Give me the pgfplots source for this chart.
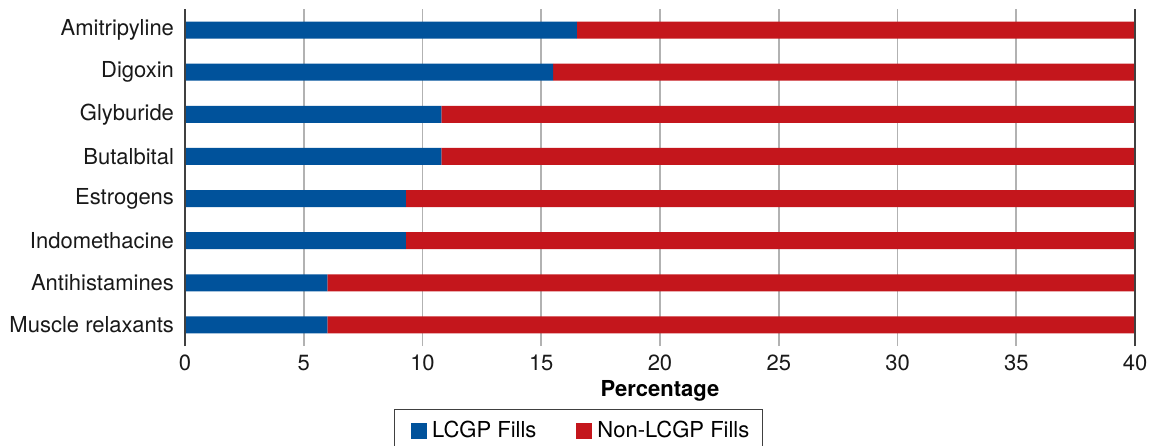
\documentclass[border=0pt]{standalone}
\usepackage{pgfplots}
\pgfplotsset{compat=1.18}
\usepackage{fontspec}
\setmainfont{TeX Gyre Heros}
\definecolor{lblue}{RGB}{0,82,155}
\definecolor{lred}{RGB}{196,22,28}
\newcommand{\fs}{\fontsize{11bp}{13bp}\selectfont}
\begin{document}
\begin{tikzpicture}
\begin{axis}[
  xbar stacked,
  scale only axis,
  width=475bp, height=168.5bp,
  xmin=0, xmax=40, ymin=-0.5, ymax=7.5,
  ytick={0,...,7},
  yticklabels={Muscle relaxants,Antihistamines,Indomethacine,Estrogens,Butalbital,Glyburide,Digoxin,Amitripyline},
  xtick={0,5,...,40},
  bar width=8.5bp,
  xmajorgrids,
  grid style={draw=black!30, line width=0.8pt},
  axis line style={draw=none},
  major tick length=0pt,
  tick style={draw=none},
  /pgf/number format/assume math mode=true,
  tick label style={font=\fs, text=black!90},
  yticklabel style={xshift=-2bp},
  xticklabel style={yshift=-1bp},
  xlabel={\textbf{Percentage}},
  xlabel style={font=\fs, yshift=2bp},
  legend columns=2,
  legend style={at={(0.414,-0.186)}, anchor=north, font=\fs, draw=black!75, line width=0.6pt,
    inner xsep=4bp, inner ysep=4bp,
    nodes={inner xsep=2.5bp},
    /tikz/every even column/.append style={column sep=13bp}},
  legend image code/.code={\path (0bp,0bp); \fill[#1] (4.5bp,-4bp) rectangle (12.5bp,4bp);},
]
\addplot[fill=lblue, draw=none] coordinates {(6.0,0) (6.0,1) (9.3,2) (9.3,3) (10.8,4) (10.8,5) (15.5,6) (16.5,7)};
\addplot[fill=lred, draw=none] coordinates {(94.0,0) (94.0,1) (90.7,2) (90.7,3) (89.2,4) (89.2,5) (84.5,6) (83.5,7)};
\legend{LCGP Fills, Non-LCGP Fills}
\end{axis}
\draw[black!75, line width=0.9pt] (0,0) -- (0,168.5bp);
\draw[black!75, line width=0.9pt] (475bp,0) -- (475bp,168.5bp);
\pgfresetboundingbox
\path (-92.5bp,-50bp) rectangle (482.5bp,173bp);
\end{tikzpicture}
\end{document}
